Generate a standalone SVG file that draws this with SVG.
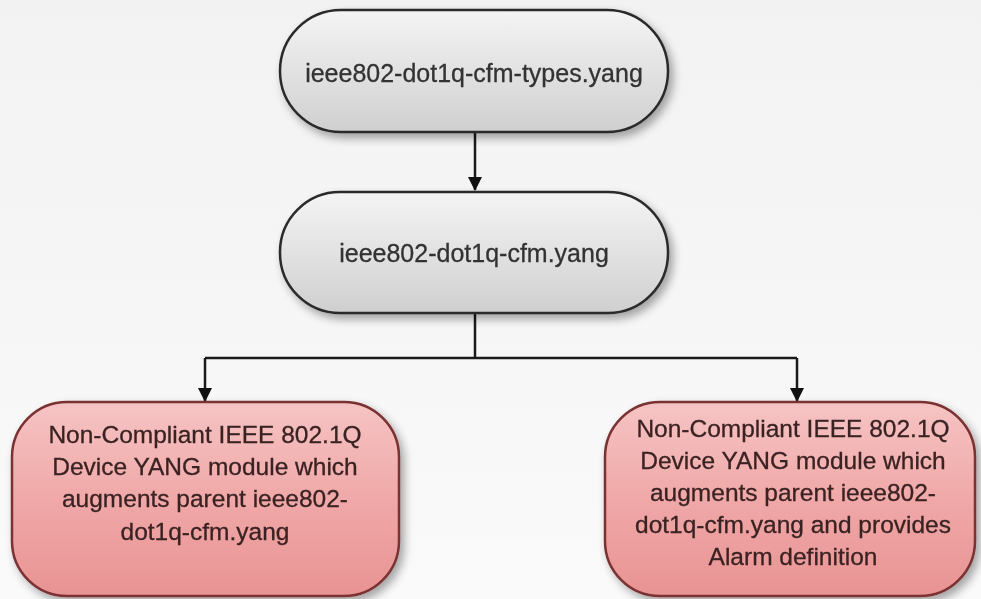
<svg xmlns="http://www.w3.org/2000/svg" width="981" height="599" viewBox="0 0 981 599">
<defs>
<linearGradient id="bg" x1="0" y1="0" x2="0" y2="1"><stop offset="0" stop-color="#f2f2f2"/><stop offset="1" stop-color="#fafafa"/></linearGradient>
<linearGradient id="gray" x1="0" y1="0" x2="0" y2="1"><stop offset="0" stop-color="#f4f4f4"/><stop offset="0.5" stop-color="#e2e2e2"/><stop offset="1" stop-color="#cfcfcf"/></linearGradient>
<linearGradient id="red" x1="0" y1="0" x2="0" y2="1"><stop offset="0" stop-color="#f6c4c4"/><stop offset="0.5" stop-color="#f0a8a8"/><stop offset="1" stop-color="#e99393"/></linearGradient>
<filter id="sh" x="-10%" y="-10%" width="125%" height="130%"><feGaussianBlur in="SourceAlpha" stdDeviation="5"/><feOffset dx="4" dy="5"/><feComponentTransfer><feFuncA type="linear" slope="0.35"/></feComponentTransfer><feMerge><feMergeNode/><feMergeNode in="SourceGraphic"/></feMerge></filter>
<marker id="ah" markerWidth="14" markerHeight="14" refX="13" refY="7" orient="auto" markerUnits="userSpaceOnUse"><path d="M0,0 L14,7 L0,14 Z" fill="#111"/></marker>
</defs>
<style>
.g{fill:url(#gray);stroke:#2a2a2a;stroke-width:2.5}
.r{fill:url(#red);stroke:#7a3030;stroke-width:2.5}
.t{font-family:"Liberation Sans",Arial,sans-serif;fill:#333;text-anchor:middle;stroke:#333;stroke-width:0.3}
.tm{font-size:25px}
.tb{font-size:24.5px;fill:#3a2222;stroke:#3a2222}
.c{stroke:#1a1a1a;stroke-width:2.5;fill:none}
</style>
<rect width="981" height="599" fill="url(#bg)"/>
<g id="connectors">
<path class="c" d="M475,132 V190" marker-end="url(#ah)"/>
<path class="c" d="M475,313 V358"/>
<path class="c" d="M205,358 H797"/>
<path class="c" d="M205,358 V401" marker-end="url(#ah)"/>
<path class="c" d="M797,358 V401" marker-end="url(#ah)"/>
</g>
<g id="node-types" filter="url(#sh)">
<rect class="g" x="280" y="10" width="388" height="122" rx="61"/>
<text class="t tm" x="474" y="82">ieee802-dot1q-cfm-types.yang</text>
</g>
<g id="node-cfm" filter="url(#sh)">
<rect class="g" x="280" y="192" width="388" height="121" rx="60"/>
<text class="t tm" x="474" y="262">ieee802-dot1q-cfm.yang</text>
</g>
<g id="node-left" filter="url(#sh)">
<rect class="r" x="12" y="402" width="387" height="194" rx="55"/>
<text class="t tb" x="205" y="443">Non-Compliant IEEE 802.1Q</text>
<text class="t tb" x="205" y="475">Device YANG module which</text>
<text class="t tb" x="205" y="507">augments parent ieee802-</text>
<text class="t tb" x="205" y="540">dot1q-cfm.yang</text>
</g>
<g id="node-right" filter="url(#sh)">
<rect class="r" x="605" y="402" width="370" height="194" rx="55"/>
<text class="t tb" x="793" y="437">Non-Compliant IEEE 802.1Q</text>
<text class="t tb" x="793" y="469">Device YANG module which</text>
<text class="t tb" x="793" y="501">augments parent ieee802-</text>
<text class="t tb" x="793" y="533">dot1q-cfm.yang and provides</text>
<text class="t tb" x="793" y="565">Alarm definition</text>
</g>
</svg>
